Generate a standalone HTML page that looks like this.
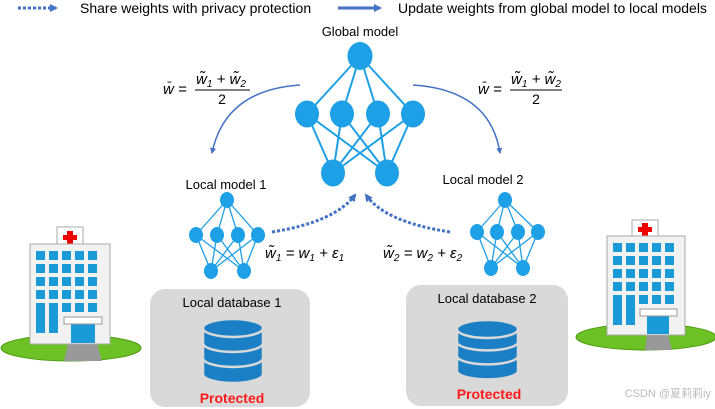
<!DOCTYPE html>
<html><head><meta charset="utf-8"><style>
body{margin:0;background:#fff}
svg{display:block}
text{font-family:"Liberation Sans",sans-serif}
.m{font-family:"Liberation Serif",serif;font-style:italic}
</style></head><body>
<svg width="715" height="409" viewBox="0 0 715 409" xmlns="http://www.w3.org/2000/svg">
<defs>
<marker id="ah" markerWidth="8" markerHeight="8" refX="6" refY="4" orient="auto" markerUnits="userSpaceOnUse"><path d="M0,0 L8,4 L0,8 Z" fill="#4472c4"/></marker>
<marker id="ah2" markerWidth="6" markerHeight="6" refX="5" refY="3" orient="auto" markerUnits="userSpaceOnUse"><path d="M0,0 L6,3 L0,6 Z" fill="#4472c4"/></marker>
</defs>
<line x1="18" y1="8" x2="56" y2="8" stroke="#4472c4" stroke-width="3" stroke-dasharray="3,2" marker-end="url(#ah)"/>
<text x="80" y="13" font-size="14">Share weights with privacy protection</text>
<line x1="338" y1="8" x2="380" y2="8" stroke="#4472c4" stroke-width="3" marker-end="url(#ah)"/>
<text x="398" y="13" font-size="14">Update weights from global model to local models</text>
<text x="360" y="36" font-size="13" text-anchor="middle">Global model</text>
<g stroke="#1ea0e6" stroke-width="2">
<line x1="360" y1="56" x2="307" y2="114"/><line x1="360" y1="56" x2="342" y2="114"/><line x1="360" y1="56" x2="378" y2="114"/><line x1="360" y1="56" x2="413" y2="114"/>
<line x1="307" y1="114" x2="333" y2="173"/><line x1="307" y1="114" x2="387" y2="173"/>
<line x1="342" y1="114" x2="333" y2="173"/><line x1="342" y1="114" x2="387" y2="173"/>
<line x1="378" y1="114" x2="333" y2="173"/><line x1="378" y1="114" x2="387" y2="173"/>
<line x1="413" y1="114" x2="333" y2="173"/><line x1="413" y1="114" x2="387" y2="173"/>
</g>
<g fill="#1ea0e6">
<ellipse cx="360" cy="56" rx="12.5" ry="14"/>
<ellipse cx="307" cy="114" rx="12" ry="13.5"/><ellipse cx="342" cy="114" rx="12" ry="13.5"/><ellipse cx="378" cy="114" rx="12" ry="13.5"/><ellipse cx="413" cy="114" rx="12" ry="13.5"/>
<ellipse cx="333" cy="173" rx="12" ry="13.5"/><ellipse cx="387" cy="173" rx="12" ry="13.5"/>
</g>
<g font-size="15" class="m">
<text x="163" y="94">w̄ =</text>
<text x="196" y="84">w̃<tspan font-size="10" dy="3">1</tspan><tspan dy="-3"> + w̃</tspan><tspan font-size="10" dy="3">2</tspan></text>
<text x="478" y="94">w̄ =</text>
<text x="511" y="84">w̃<tspan font-size="10" dy="3">1</tspan><tspan dy="-3"> + w̃</tspan><tspan font-size="10" dy="3">2</tspan></text>
</g>
<line x1="195" y1="90" x2="250" y2="90" stroke="#000" stroke-width="1"/>
<line x1="510" y1="90" x2="562" y2="90" stroke="#000" stroke-width="1"/>
<text x="222" y="104" font-size="14" text-anchor="middle" font-family="Liberation Serif">2</text>
<text x="536" y="104" font-size="14" text-anchor="middle" font-family="Liberation Serif">2</text>
<path d="M300,85 Q225,90 212,153" fill="none" stroke="#4472c4" stroke-width="1.5" marker-end="url(#ah2)"/>
<path d="M413,85 Q490,90 500,153" fill="none" stroke="#4472c4" stroke-width="1.5" marker-end="url(#ah2)"/>
<text x="226" y="189" font-size="13" text-anchor="middle">Local model 1</text>
<text x="483" y="184" font-size="13" text-anchor="middle">Local model 2</text>
<g stroke="#1ea0e6" stroke-width="1.3">
<line x1="227" y1="200" x2="196" y2="235"/><line x1="227" y1="200" x2="217" y2="235"/><line x1="227" y1="200" x2="238" y2="235"/><line x1="227" y1="200" x2="258" y2="235"/>
<line x1="196" y1="235" x2="211" y2="271"/><line x1="196" y1="235" x2="244" y2="271"/><line x1="217" y1="235" x2="211" y2="271"/><line x1="217" y1="235" x2="244" y2="271"/>
<line x1="238" y1="235" x2="211" y2="271"/><line x1="238" y1="235" x2="244" y2="271"/><line x1="258" y1="235" x2="211" y2="271"/><line x1="258" y1="235" x2="244" y2="271"/>
<line x1="505" y1="200" x2="477" y2="232"/><line x1="505" y1="200" x2="497" y2="232"/><line x1="505" y1="200" x2="518" y2="232"/><line x1="505" y1="200" x2="538" y2="232"/>
<line x1="477" y1="232" x2="491" y2="268"/><line x1="477" y1="232" x2="523" y2="268"/><line x1="497" y1="232" x2="491" y2="268"/><line x1="497" y1="232" x2="523" y2="268"/>
<line x1="518" y1="232" x2="491" y2="268"/><line x1="518" y1="232" x2="523" y2="268"/><line x1="538" y1="232" x2="491" y2="268"/><line x1="538" y1="232" x2="523" y2="268"/>
</g>
<g fill="#1ea0e6">
<ellipse cx="227" cy="200" rx="7" ry="8"/><ellipse cx="196" cy="235" rx="7" ry="8"/><ellipse cx="217" cy="235" rx="7" ry="8"/><ellipse cx="238" cy="235" rx="7" ry="8"/><ellipse cx="258" cy="235" rx="7" ry="8"/><ellipse cx="211" cy="271" rx="7" ry="8"/><ellipse cx="244" cy="271" rx="7" ry="8"/>
<ellipse cx="505" cy="200" rx="7" ry="8"/><ellipse cx="477" cy="232" rx="7" ry="8"/><ellipse cx="497" cy="232" rx="7" ry="8"/><ellipse cx="518" cy="232" rx="7" ry="8"/><ellipse cx="538" cy="232" rx="7" ry="8"/><ellipse cx="491" cy="268" rx="7" ry="8"/><ellipse cx="523" cy="268" rx="7" ry="8"/>
</g>
<path d="M272,232 Q335,222 355,195" fill="none" stroke="#4472c4" stroke-width="3" stroke-dasharray="3,2" marker-end="url(#ah)"/>
<path d="M450,232 Q385,222 366,195" fill="none" stroke="#4472c4" stroke-width="3" stroke-dasharray="3,2" marker-end="url(#ah)"/>
<g font-size="15" class="m">
<text x="265" y="258">w̃<tspan font-size="10" dy="3">1</tspan><tspan dy="-3"> = w</tspan><tspan font-size="10" dy="3">1</tspan><tspan dy="-3"> + ε</tspan><tspan font-size="10" dy="3">1</tspan></text>
<text x="383" y="258">w̃<tspan font-size="10" dy="3">2</tspan><tspan dy="-3"> = w</tspan><tspan font-size="10" dy="3">2</tspan><tspan dy="-3"> + ε</tspan><tspan font-size="10" dy="3">2</tspan></text>
</g>
<rect x="150" y="289" width="160" height="118" rx="15" fill="#d9d9d9"/>
<rect x="406" y="285" width="162" height="121" rx="15" fill="#d9d9d9"/>
<text x="232" y="307" font-size="13" text-anchor="middle">Local database 1</text>
<text x="487" y="303" font-size="13" text-anchor="middle">Local database 2</text>
<g fill="#1a7fc4" stroke="#d9d9d9" stroke-width="2.5">
<path d="M203,328 a30,9 0 0 1 60,0 v46 a30,9 0 0 1 -60,0 z"/>
<path d="M203,343 a30,9 0 0 0 60,0" fill="none"/><path d="M203,358 a30,9 0 0 0 60,0" fill="none"/>
<ellipse cx="233" cy="328" rx="30" ry="9"/>
<path d="M457,329 a31,9 0 0 1 61,0 v43 a31,9 0 0 1 -61,0 z"/>
<path d="M457,343 a31,9 0 0 0 61,0" fill="none"/><path d="M457,357 a31,9 0 0 0 61,0" fill="none"/>
<ellipse cx="487.5" cy="329" rx="30.5" ry="9"/>
</g>
<text x="232" y="403" font-size="14" font-weight="bold" fill="#ff1a1a" text-anchor="middle">Protected</text>
<text x="489" y="399" font-size="14" font-weight="bold" fill="#ff1a1a" text-anchor="middle">Protected</text>
<g>
<ellipse cx="71" cy="348" rx="70" ry="13" fill="#6cc224" stroke="#4a9a10"/>
<path d="M68,343 L97,343 L102,361 L64,361 Z" fill="#999"/>
<rect x="57" y="227" width="26" height="18" fill="#fff" stroke="#aaa"/>
<path d="M67,231h6v4h4v5h-4v4h-6v-4h-4v-5h4z" fill="#e00"/>
<rect x="30" y="244" width="80" height="100" fill="#f2f2f2" stroke="#aaa"/>
<g fill="#1a9ad6">
<rect x="36" y="251" width="9" height="9"/><rect x="49" y="251" width="9" height="9"/><rect x="62" y="251" width="9" height="9"/><rect x="75" y="251" width="9" height="9"/><rect x="88" y="251" width="9" height="9"/>
<rect x="36" y="264" width="9" height="9"/><rect x="49" y="264" width="9" height="9"/><rect x="62" y="264" width="9" height="9"/><rect x="75" y="264" width="9" height="9"/><rect x="88" y="264" width="9" height="9"/>
<rect x="36" y="277" width="9" height="9"/><rect x="49" y="277" width="9" height="9"/><rect x="62" y="277" width="9" height="9"/><rect x="75" y="277" width="9" height="9"/><rect x="88" y="277" width="9" height="9"/>
<rect x="36" y="290" width="9" height="9"/><rect x="49" y="290" width="9" height="9"/><rect x="62" y="290" width="9" height="9"/><rect x="75" y="290" width="9" height="9"/><rect x="88" y="290" width="9" height="9"/>
<rect x="36" y="303" width="9" height="30"/><rect x="49" y="303" width="9" height="30"/><rect x="62" y="303" width="9" height="9"/><rect x="75" y="303" width="9" height="9"/><rect x="88" y="303" width="9" height="9"/>
<rect x="71" y="323" width="24" height="20"/>
</g>
<rect x="64" y="317" width="38" height="7" fill="#fff" stroke="#999"/>
</g>
<g>
<ellipse cx="646" cy="337" rx="70" ry="13" fill="#6cc224" stroke="#4a9a10"/>
<path d="M647,334 L668,334 L672,350 L645,350 Z" fill="#999"/>
<rect x="632" y="220" width="26" height="17" fill="#fff" stroke="#aaa"/>
<path d="M642,223h6v4h4v5h-4v4h-6v-4h-4v-5h4z" fill="#e00"/>
<rect x="607" y="236" width="78" height="99" fill="#f2f2f2" stroke="#aaa"/>
<g fill="#1a9ad6">
<rect x="613" y="243" width="9" height="9"/><rect x="626" y="243" width="9" height="9"/><rect x="639" y="243" width="9" height="9"/><rect x="652" y="243" width="9" height="9"/><rect x="665" y="243" width="9" height="9"/>
<rect x="613" y="256" width="9" height="9"/><rect x="626" y="256" width="9" height="9"/><rect x="639" y="256" width="9" height="9"/><rect x="652" y="256" width="9" height="9"/><rect x="665" y="256" width="9" height="9"/>
<rect x="613" y="269" width="9" height="9"/><rect x="626" y="269" width="9" height="9"/><rect x="639" y="269" width="9" height="9"/><rect x="652" y="269" width="9" height="9"/><rect x="665" y="269" width="9" height="9"/>
<rect x="613" y="282" width="9" height="9"/><rect x="626" y="282" width="9" height="9"/><rect x="639" y="282" width="9" height="9"/><rect x="652" y="282" width="9" height="9"/><rect x="665" y="282" width="9" height="9"/>
<rect x="613" y="295" width="9" height="30"/><rect x="626" y="295" width="9" height="30"/><rect x="639" y="295" width="9" height="9"/><rect x="652" y="295" width="9" height="9"/><rect x="665" y="295" width="9" height="9"/>
<rect x="647" y="315" width="22" height="19"/>
</g>
<rect x="640" y="309" width="37" height="7" fill="#fff" stroke="#999"/>
</g>
<text x="711" y="397" font-size="11" fill="#bbb" text-anchor="end" font-family="Liberation Sans, Noto Sans CJK SC, sans-serif">CSDN @夏莉莉iy</text>
</svg>
</body></html>
